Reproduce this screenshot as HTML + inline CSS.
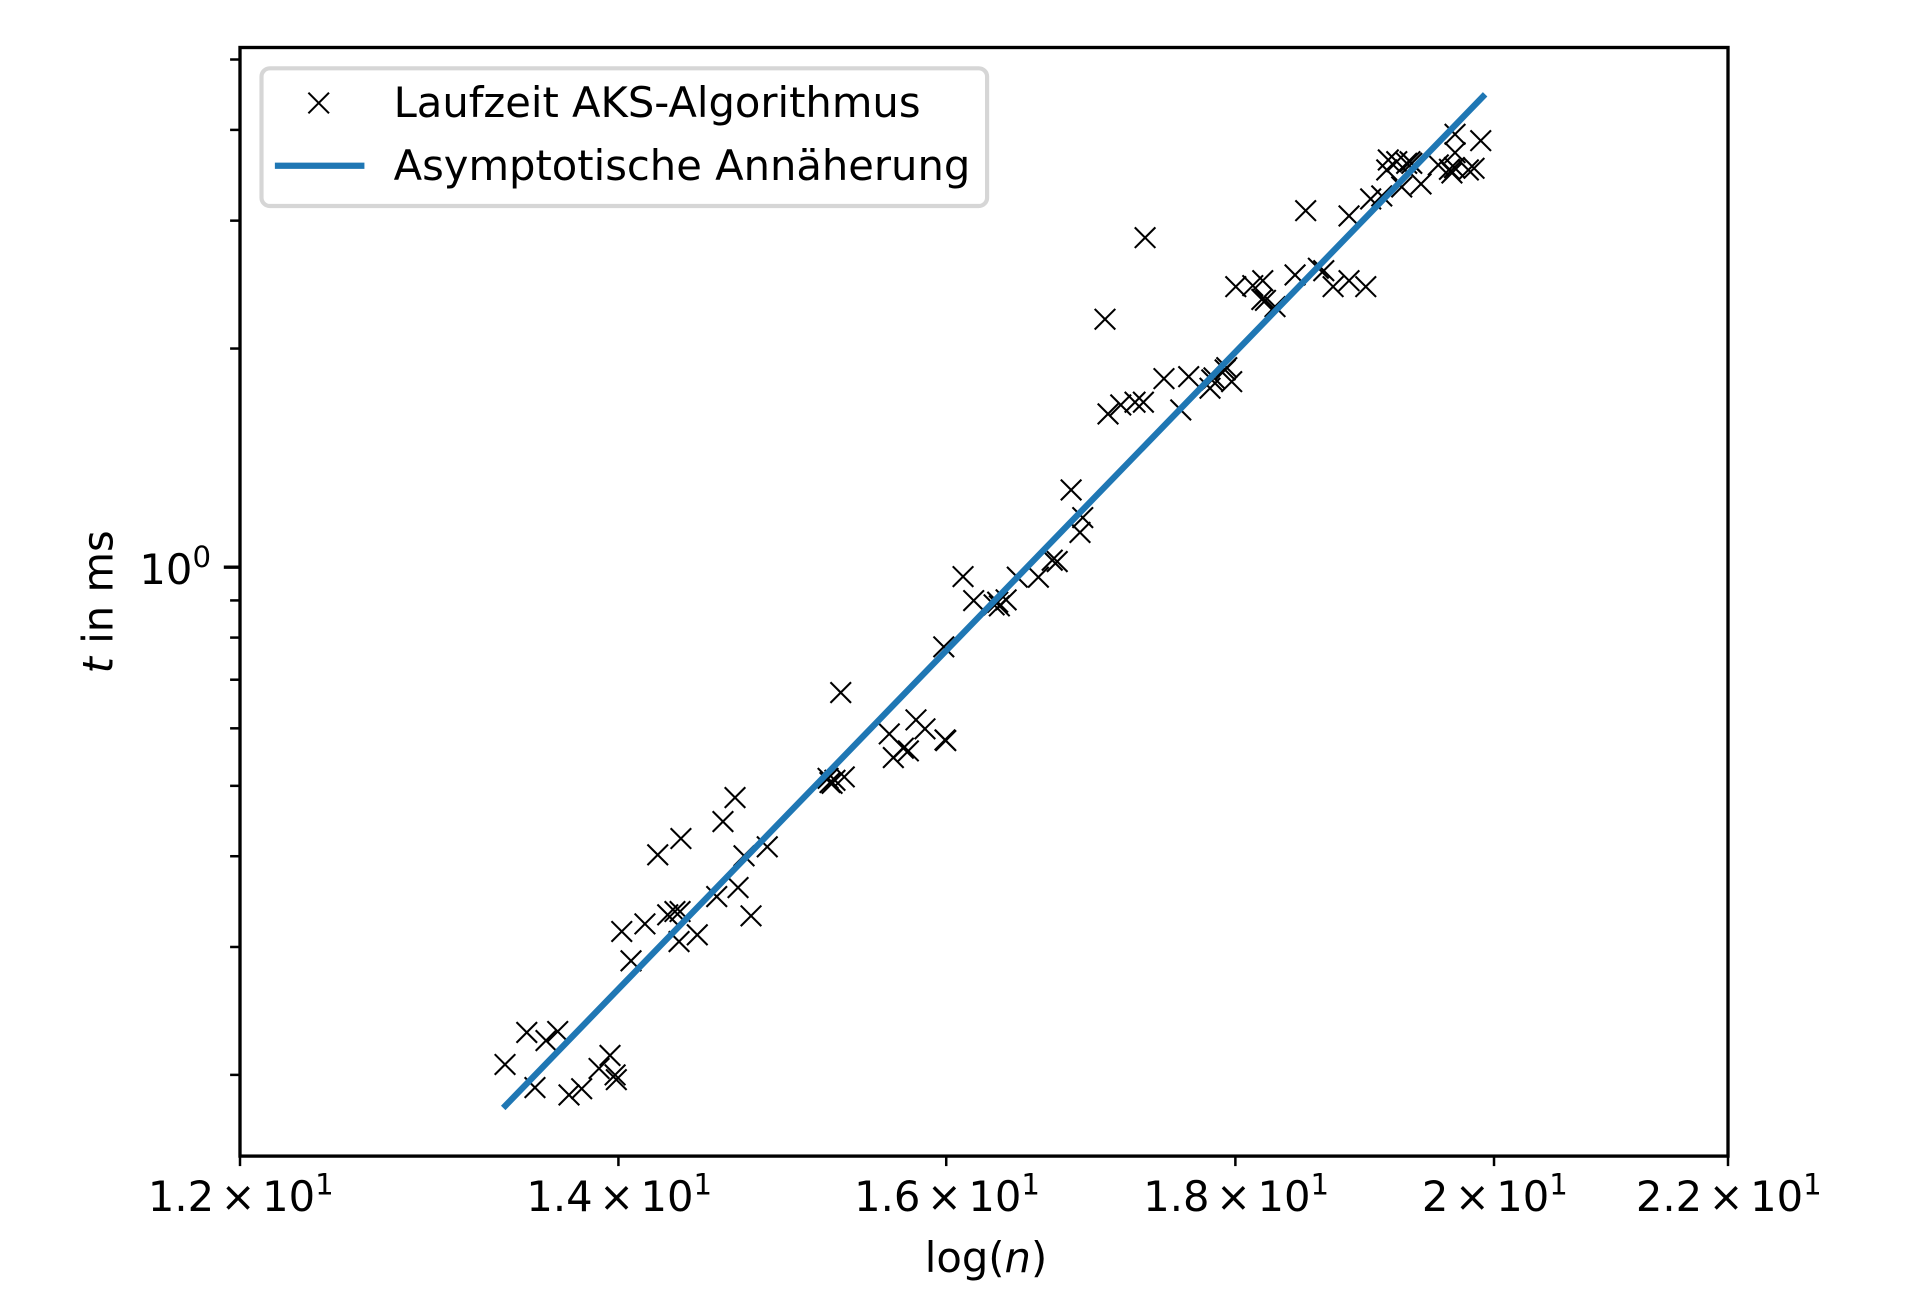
<!DOCTYPE html>
<html lang="de">
<head>
<meta charset="utf-8">
<title>Laufzeit AKS-Algorithmus</title>
<style>
html,body{margin:0;padding:0;background:#fff;width:1920px;height:1314px;overflow:hidden}
svg{display:block}
text{font-family:"DejaVu Sans","Liberation Sans",sans-serif;font-size:41.67px;fill:#000}
</style>
</head>
<body>
<svg id="chart" xmlns="http://www.w3.org/2000/svg" width="1920" height="1314" viewBox="0 0 1920 1314">
  <rect x="0" y="0" width="1920" height="1314" fill="#fff"/>
  <g id="series-layer"></g>
  <g id="tick-layer"></g>
  <rect x="240" y="47.5" width="1488" height="1108.6" fill="none" stroke="#000" stroke-width="3.33"/>
  <text x="986" y="1272" text-anchor="middle">log(<tspan font-style="italic">n</tspan>)</text>
  <text transform="translate(112.5 601.8) rotate(-90)" text-anchor="middle"><tspan font-style="italic">t</tspan> in ms</text>
  <g>
    <rect x="261.5" y="68.3" width="725.6" height="137.7" rx="8.3" ry="8.3" fill="#fff" fill-opacity="0.8" stroke="#ccc" stroke-opacity="0.8" stroke-width="4.17"/>
    <path d="M308.4 92.7L329 113.3M308.4 113.3L329 92.7" fill="none" stroke="#000" stroke-width="2.08"/>
    <line x1="278" y1="165.7" x2="361.3" y2="165.7" stroke="#1f77b4" stroke-width="6.25" stroke-linecap="square"/>
    <text x="393.6" y="117">Laufzeit AKS-Algorithmus</text>
    <text x="393.6" y="180">Asymptotische Annäherung</text>
  </g>
</svg>
<script>
const xDomain = [12, 22];
const yDomain = [0.1546, 5.194];
const xTickValues = [12, 14, 16, 18, 20, 22];
const xTickMantissas = ["1.2", "1.4", "1.6", "1.8", "2", "2.2"];
const yMajorTicks = [1];
const yMinorTicks = [0.2, 0.3, 0.4, 0.5, 0.6, 0.7, 0.8, 0.9, 2, 3, 4, 5];
const runtimeX = [13.368,13.487,13.532,13.593,13.658,13.721,13.792,13.890,13.952,13.981,13.988,14.019,14.072,14.152,14.226,14.284,14.326,14.356,14.350,14.361,14.457,14.572,14.609,14.681,14.699,14.735,14.777,14.875,15.248,15.260,15.273,15.291,15.349,15.327,15.633,15.659,15.723,15.755,15.804,15.862,15.992,15.997,15.984,16.110,16.180,16.315,16.339,16.350,16.395,16.470,16.612,16.706,16.740,16.835,16.896,16.915,17.069,17.090,17.179,17.279,17.338,17.350,17.484,17.604,17.661,17.815,17.828,17.844,17.925,17.937,17.973,18.003,18.128,18.202,18.195,18.222,18.293,18.443,18.619,18.660,18.731,18.853,18.982,18.523,18.853,19.020,19.106,19.157,19.145,19.223,19.262,19.301,19.327,19.341,19.414,19.551,19.640,19.660,19.680,19.685,19.685,19.792,19.838,19.892];
const runtimeY = [0.2067,0.2288,0.1921,0.2230,0.2295,0.1877,0.1914,0.2041,0.2127,0.2000,0.1970,0.3151,0.2871,0.3228,0.4018,0.3322,0.3357,0.3357,0.3052,0.4231,0.3118,0.3520,0.4465,0.4818,0.3622,0.4005,0.3311,0.4121,0.5120,0.5053,0.5040,0.5088,0.5144,0.6720,0.5895,0.5469,0.5634,0.5586,0.6163,0.5990,0.5784,0.5772,0.7768,0.9706,0.8995,0.8874,0.8950,0.8846,0.9016,0.9688,0.9688,1.0224,1.0179,1.2776,1.1166,1.1702,2.1947,1.6257,1.6727,1.6871,1.6871,2.8426,1.8181,1.6464,1.8296,1.7636,1.8105,1.8221,1.8689,1.8826,1.8008,2.4337,2.4415,2.4803,2.3370,2.3300,2.2842,2.5256,2.5798,2.5600,2.4337,2.4803,2.4337,3.0966,3.0450,3.2136,3.2442,3.6363,3.5229,3.6167,3.3380,3.5983,3.6167,3.5983,3.3700,3.5791,3.5300,3.4900,3.5500,3.9451,3.7217,3.5229,3.5420,3.8660];
const fitX = [13.37, 19.91];
const fitY = [0.1814, 4.446];

const SVG_NS = "http://www.w3.org/2000/svg";
const plotLeft = 240, plotRight = 1728, plotTop = 47.5, plotBottom = 1156.1;

function xScale(v) {
  return plotLeft + (plotRight - plotLeft) * Math.log10(v / xDomain[0]) / Math.log10(xDomain[1] / xDomain[0]);
}
function yScale(v) {
  return plotBottom - (plotBottom - plotTop) * Math.log10(v / yDomain[0]) / Math.log10(yDomain[1] / yDomain[0]);
}
function make(tag, attrs, parent) {
  const el = document.createElementNS(SVG_NS, tag);
  for (const k in attrs) el.setAttribute(k, attrs[k]);
  parent.appendChild(el);
  return el;
}
function span(parent, text, attrs) {
  const t = make("tspan", attrs || {}, parent);
  t.textContent = text;
  return t;
}

const seriesLayer = document.getElementById("series-layer");
const tickLayer = document.getElementById("tick-layer");

runtimeX.forEach(function (xv, i) {
  const cx = xScale(xv), cy = yScale(runtimeY[i]), r = 10.3;
  const d = "M" + (cx - r) + " " + (cy - r) + "L" + (cx + r) + " " + (cy + r) +
            "M" + (cx - r) + " " + (cy + r) + "L" + (cx + r) + " " + (cy - r);
  const m = make("path", { d: d, fill: "none", stroke: "#000", "stroke-width": 2.08 }, seriesLayer);
  
  
});

const fitPoints = fitX.map(function (xv, i) { return xScale(xv) + "," + yScale(fitY[i]); }).join(" ");
const fitLine = make("polyline", { points: fitPoints, fill: "none", stroke: "#1f77b4", "stroke-width": 6.25, "stroke-linecap": "square" }, seriesLayer);



xTickValues.forEach(function (v, i) {
  const px = xScale(v);
  const tick = make("line", { x1: px, x2: px, y1: plotBottom, y2: plotBottom + 10, stroke: "#000", "stroke-width": 2.5 }, tickLayer);
  
  
  const label = make("text", { x: px + 0.8, y: 1211, "text-anchor": "middle" }, tickLayer);
  
  
  span(label, xTickMantissas[i]);
  span(label, "\u00d7", { dx: 6.5 });
  span(label, "10", { dx: 6.5 });
  span(label, "1", { dy: -16.5, "font-size": "29.17px" });
});

yMinorTicks.forEach(function (v) {
  const py = yScale(v);
  const tick = make("line", { x1: plotLeft, x2: plotLeft - 9.9, y1: py, y2: py, stroke: "#000", "stroke-width": 2.5 }, tickLayer);
  
  
});

yMajorTicks.forEach(function (v) {
  const py = yScale(v);
  const tick = make("line", { x1: plotLeft, x2: plotLeft - 16.2, y1: py, y2: py, stroke: "#000", "stroke-width": 3.33 }, tickLayer);
  
  
  const label = make("text", { x: 211, y: py + 16.7, "text-anchor": "end" }, tickLayer);
  
  
  span(label, "10");
  span(label, "0", { dy: -17, "font-size": "29.17px" });
});
</script>
</body>
</html>
